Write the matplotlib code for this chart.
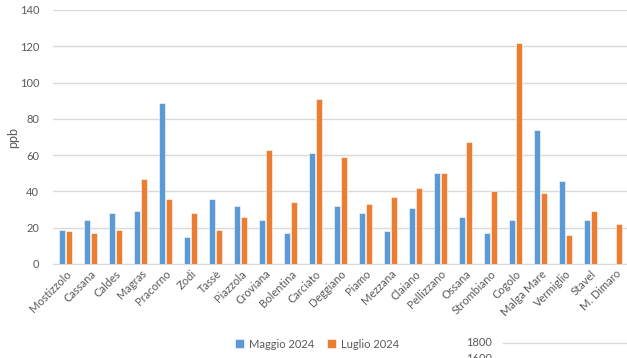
import numpy as np
import matplotlib.pyplot as plt

plt.rcParams['font.family'] = ['Lato', 'DejaVu Sans']

# dati (ppb)
stazioni = ['Mostizzolo', 'Cassana', 'Caldes', 'Magras', 'Pracorno', 'Zodi', 'Tassè',
            'Piazzola', 'Croviana', 'Bolentina', 'Carciato', 'Deggiano', 'Piamo',
            'Mezzana', 'Claiano', 'Pellizzano', 'Ossana', 'Strombiano', 'Cogolo',
            'Malga Mare', 'Vermiglio', 'Stavel', 'M. Dimaro']
maggio = [19, 24, 28, 29, 89, 15, 36, 32, 24, 17, 61, 32, 28, 18, 31, 50, 26, 17, 24,
          74, 46, 24, np.nan]
luglio = [18, 17, 19, 47, 36, 28, 19, 26, 63, 34, 91, 59, 33, 37, 42, 50, 67, 40, 122,
          39, 16, 29, 22]

blu = '#5B9BD5'
arancio = '#ED7D31'
grigio = '#595959'

fig = plt.figure(figsize=(6.27, 3.58), dpi=100)
ax = fig.add_axes([53 / 627, 1 - 264 / 358, 1 - 53 / 627, (264 - 10) / 358])

x = np.arange(len(stazioni))
w = 0.25
ax.bar(x - 0.13, maggio, w, color=blu, edgecolor='white', linewidth=0.4, label='Maggio 2024', zorder=3)
ax.bar(x + 0.13, luglio, w, color=arancio, edgecolor='white', linewidth=0.4, label='Luglio 2024', zorder=3)

ax.set_ylim(0, 140)
ax.set_yticks(range(0, 141, 20))
ax.set_xlim(-0.5, len(stazioni) - 0.54)
ax.set_xticks(x)
ax.set_xticklabels(stazioni, rotation=45, ha='right', rotation_mode='anchor', fontsize=8, color=grigio)
ax.tick_params(axis='y', labelsize=8, labelcolor=grigio, length=0, pad=10)
ax.tick_params(axis='x', length=0, pad=3)
ax.grid(axis='y', color='#D9D9D9', linewidth=1, zorder=0)
for s in ['top', 'right', 'left']:
    ax.spines[s].set_visible(False)
ax.spines['bottom'].set_color('#D9D9D9')

fig.text(13 / 627, 1 - 138 / 358, 'ppb', rotation=90, ha='center', va='center', fontsize=9, color=grigio)

fig.legend(loc='center', bbox_to_anchor=(317 / 627, 1 - 344 / 358), ncol=2, frameon=False,
           fontsize=8, labelcolor=grigio, handlelength=0.8, handleheight=0.8,
           handletextpad=0.4, columnspacing=1.2)

# resto del grafico sottostante
fig.text(492 / 627, 1 - 343 / 358, '1800', ha='right', va='center', fontsize=8, color=grigio)
fig.text(492 / 627, 1 - 359 / 358, '1600', ha='right', va='center', fontsize=8, color=grigio)
fig.add_artist(plt.Line2D([503 / 627, 1], [1 - 343 / 358] * 2, color='#D9D9D9', linewidth=1))

fig.savefig('out.png', dpi=100)
